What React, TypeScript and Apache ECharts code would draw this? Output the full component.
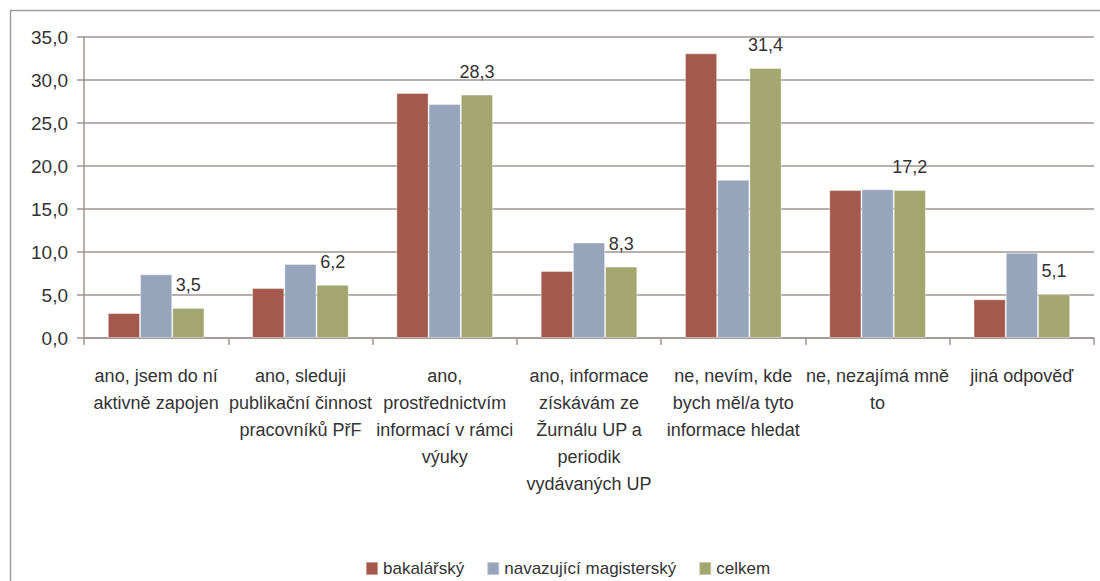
import React, { useEffect, useRef } from "react";
import * as echarts from "echarts";

const categories = [
  "ano, jsem do ní\naktivně zapojen",
  "ano, sleduji\npublikační činnost\npracovníků PřF",
  "ano,\nprostřednictvím\ninformací v rámci\nvýuky",
  "ano, informace\nzískávám ze\nŽurnálu UP a\nperiodik\nvydávaných UP",
  "ne, nevím, kde\nbych měl/a tyto\ninformace hledat",
  "ne, nezajímá mně\nto",
  "jiná odpověď",
];
const bakalarsky = [2.9, 5.8, 28.5, 7.8, 33.1, 17.2, 4.5];
const navazujici = [7.4, 8.6, 27.2, 11.1, 18.4, 17.3, 9.9];
const celkem = [3.5, 6.2, 28.3, 8.3, 31.4, 17.2, 5.1];
const seriesNames = ["bakalářský", "navazující magisterský", "celkem"];
const colors = ["#a3594b", "#97a5bc", "#a4a670"];

const FONT = "'Liberation Sans', Arial, sans-serif";
const fmt = (v: number) => v.toFixed(1).replace(".", ",");

export default function App() {
  const ref = useRef<HTMLDivElement>(null);
  useEffect(() => {
    if (!ref.current) return;
    const chart = echarts.init(ref.current, undefined, { renderer: "svg" });
    const axisColor = "#a09494";
    chart.setOption({
      animation: false,
      backgroundColor: "#ffffff",
      textStyle: { fontFamily: FONT, color: "#333333" },
      graphic: [
        {
          type: "rect",
          shape: { x: 10.5, y: 10.5, width: 1200, height: 700 },
          style: { fill: "none", stroke: "#a39a9a", lineWidth: 1.5 },
          silent: true,
        },
      ],
      grid: { left: 84, right: 6, top: 37, bottom: 243, containLabel: false },
      legend: {
        left: 360,
        top: 555,
        itemWidth: 12,
        itemHeight: 13,
        itemGap: 22,
        icon: "rect",
        textStyle: { fontFamily: FONT, fontSize: 17, color: "#333333" },
        data: seriesNames,
      },
      xAxis: {
        type: "category",
        data: categories,
        axisLine: { lineStyle: { color: axisColor, width: 1.5 } },
        axisTick: { show: true, length: 7, lineStyle: { color: axisColor, width: 1.5 } },
        axisLabel: {
          interval: 0,
          fontFamily: FONT,
          fontSize: 18,
          lineHeight: 27,
          color: "#333333",
          margin: 24,
          align: "center",
        },
      },
      yAxis: {
        type: "value",
        min: 0,
        max: 35,
        interval: 5,
        axisLine: { show: true, lineStyle: { color: axisColor, width: 1.5 } },
        axisTick: { show: true, length: 7, lineStyle: { color: axisColor, width: 1.5 } },
        splitLine: { show: true, lineStyle: { color: axisColor, width: 1.5 } },
        axisLabel: {
          fontFamily: FONT,
          fontSize: 19,
          color: "#333333",
          margin: 16,
          formatter: (v: number) => fmt(v),
        },
      },
      series: [
        {
          name: seriesNames[0],
          type: "bar",
          data: bakalarsky,
          barGap: "0%",
          barCategoryGap: "33%",
          itemStyle: { color: colors[0], borderColor: "rgba(255,255,255,0.4)", borderWidth: 1 },
        },
        {
          name: seriesNames[1],
          type: "bar",
          data: navazujici,
          itemStyle: { color: colors[1], borderColor: "rgba(255,255,255,0.4)", borderWidth: 1 },
        },
        {
          name: seriesNames[2],
          type: "bar",
          data: celkem,
          itemStyle: { color: colors[2], borderColor: "rgba(255,255,255,0.4)", borderWidth: 1 },
          label: {
            show: true,
            position: "top",
            distance: 14,
            fontFamily: FONT,
            fontSize: 18,
            color: "#333333",
            formatter: (p: any) => fmt(p.value),
          },
        },
      ],
    });
    return () => chart.dispose();
  }, []);
  return (
    <div
      ref={ref}
      style={{ position: "absolute", left: 0, top: 0, width: 1100, height: 581 }}
    />
  );
}
